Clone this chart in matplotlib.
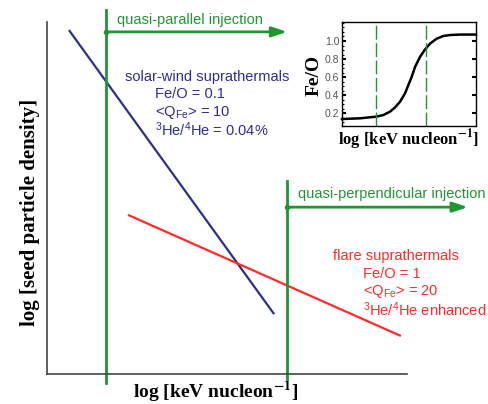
import matplotlib
matplotlib.use("Agg")
import matplotlib.pyplot as plt
from matplotlib.ticker import MultipleLocator

plt.rcParams["font.family"] = ["Liberation Sans", "DejaVu Sans"]
plt.rcParams["mathtext.fontset"] = "custom"
plt.rcParams["mathtext.rm"] = "Liberation Sans"
plt.rcParams["mathtext.it"] = "Liberation Sans:italic"

# Schematic seed spectra (log energy vs log density, arbitrary units)
solar_wind_x = [0.61, 6.31]
solar_wind_y = [9.77, 1.70]
flare_x = [2.25, 9.83]
flare_y = [4.52, 1.08]

# Injection thresholds
qpar_x = 1.64
qperp_x = 6.67

solar_wind_labels = ["solar-wind suprathermals", "Fe/O = 0.1",
                     r"<Q$_{\mathrm{Fe}}$> = 10", r"$^{3}$He/$^{4}$He = 0.04%"]
flare_labels = ["flare suprathermals", "Fe/O = 1",
                r"<Q$_{\mathrm{Fe}}$> = 20", r"$^{3}$He/$^{4}$He enhanced"]

# Inset: Fe/O ratio versus energy
inset_x = [0.0, 1.34, 2.54, 3.08, 3.58, 3.96, 4.33, 4.70, 4.95, 5.20, 5.45,
           5.82, 6.19, 6.57, 7.07, 7.56, 8.06, 8.81, 10.0]
inset_feo = [0.137, 0.145, 0.163, 0.181, 0.218, 0.266, 0.328, 0.420, 0.512,
             0.603, 0.713, 0.824, 0.905, 0.971, 1.026, 1.055, 1.066, 1.071, 1.071]
inset_marks = [2.54, 6.25]
inset_ticks = [0.2, 0.4, 0.6, 0.8, 1.0]
inset_ticklabels = ["0.2", "0.4", "0.6", "0.8", "1.0"]

GREEN = "#1e9632"
BLUE = "#2e2e8c"
RED = "#ff2a2a"

fig = plt.figure(figsize=(4.89, 4.04), dpi=100)
ax = fig.add_axes([47/489, 30/404, 360/489, 352/404])
ax.set_xlim(0, 10)
ax.set_ylim(0, 10)
for s in ["top", "right"]:
    ax.spines[s].set_visible(False)
for s in ["left", "bottom"]:
    ax.spines[s].set_color("#444444")
    ax.spines[s].set_linewidth(1.2)
ax.set_xticks([])
ax.set_yticks([])

ax.plot(solar_wind_x, solar_wind_y, color=BLUE, lw=1.6, solid_capstyle="butt")
ax.plot(flare_x, flare_y, color=RED, lw=1.6, solid_capstyle="butt")

# injection boundaries with arrows
ax.plot([qpar_x, qpar_x], [-0.26, 10.34], color=GREEN, lw=2.0, clip_on=False)
ax.plot([qperp_x, qperp_x], [-0.14, 5.48], color=GREEN, lw=2.0, clip_on=False)
ax.annotate("", xy=(6.67, 9.72), xytext=(qpar_x, 9.72), annotation_clip=False,
            arrowprops=dict(arrowstyle="-|>,head_length=0.9,head_width=0.3",
                            color=GREEN, lw=2.0, shrinkA=0, shrinkB=0))
ax.annotate("", xy=(11.69, 4.74), xytext=(qperp_x, 4.74), annotation_clip=False,
            arrowprops=dict(arrowstyle="-|>,head_length=0.9,head_width=0.3",
                            color=GREEN, lw=2.0, shrinkA=0, shrinkB=0))
ax.plot([qpar_x, qperp_x], [9.72, 4.74], ls="none", marker="o", ms=3, color=GREEN,
        clip_on=False)

ax.text(1.94, 10.06, "quasi-parallel injection", color=GREEN, fontsize=10.5,
        ha="left", va="center", clip_on=False)
ax.text(6.97, 5.11, "quasi-perpendicular injection", color=GREEN, fontsize=10.5,
        ha="left", va="center", clip_on=False)

sw_pos = [(2.17, 8.44), (3.0, 7.95), (3.0, 7.44), (3.0, 6.93)]
for (tx, ty), lab in zip(sw_pos, solar_wind_labels):
    ax.text(tx, ty, lab, color=BLUE, fontsize=10.5, ha="left", va="center")
fl_pos = [(7.94, 3.35), (8.78, 2.84), (8.78, 2.33), (8.78, 1.82)]
for (tx, ty), lab in zip(fl_pos, flare_labels):
    ax.text(tx, ty, lab, color=RED, fontsize=10.5, ha="left", va="center",
            clip_on=False)

ax.set_ylabel("log [seed particle density]", family="Liberation Serif",
              fontweight="bold", fontsize=15, va="center")
ax.yaxis.set_label_coords(-0.047, 0.46)
ax.set_xlabel(r"log [keV nucleon$^{\mathbf{-1}}$]", family="Liberation Serif",
              fontweight="bold", fontsize=14, va="center")
ax.xaxis.set_label_coords(0.469, -0.05)
ax.xaxis.label.set_math_fontfamily("stix")

# inset
ins = fig.add_axes([342/489, 278/404, 134/489, 104/404])
ins.plot(inset_x, inset_feo, color="black", lw=1.8, clip_on=False)
for m in inset_marks:
    ins.axvline(m, color=GREEN, lw=1.0, ls=(0, (10, 2.5)))
ins.set_xlim(0, 10)
ins.set_ylim(0.06, 1.21)
ins.set_xticks([])
ins.yaxis.set_minor_locator(MultipleLocator(0.05))
ins.set_yticks(inset_ticks)
ins.set_yticklabels(inset_ticklabels)
ins.tick_params(axis="y", which="major", direction="in", length=3, width=1.5,
                right=True, labelsize=7.5, labelcolor="#555555", pad=2)
ins.tick_params(axis="y", which="minor", direction="in", length=1.5, width=0.8,
                right=False)
for s in ins.spines.values():
    s.set_linewidth(1.0)
ins.set_ylabel("Fe/O", family="Liberation Serif", fontweight="bold", fontsize=14,
               va="center")
ins.yaxis.set_label_coords(-0.209, 0.486)
ins.set_xlabel(r"log [keV nucleon$^{\mathbf{-1}}$]", family="Liberation Serif",
               fontweight="bold", fontsize=12, labelpad=1)
ins.xaxis.label.set_math_fontfamily("stix")

fig.savefig("out.png", dpi=100)
